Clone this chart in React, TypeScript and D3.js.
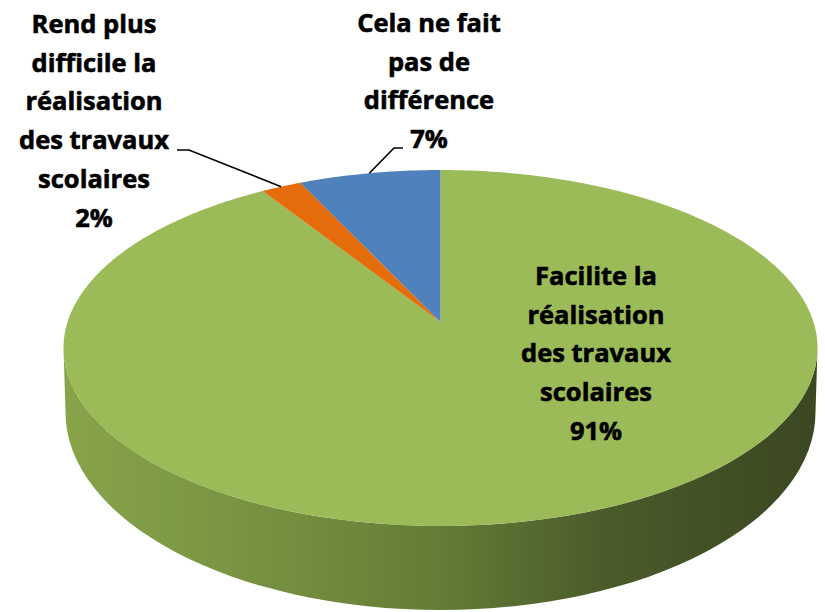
import React from "react";
import * as d3 from "d3";

// ---- data ----
const categories = [
  "Facilite la réalisation des travaux scolaires",
  "Rend plus difficile la réalisation des travaux scolaires",
  "Cela ne fait pas de différence",
];
const values = [91, 2, 7];
const labelLines = [
  ["Facilite la", "réalisation", "des travaux", "scolaires"],
  ["Rend plus", "difficile la", "réalisation", "des travaux", "scolaires"],
  ["Cela ne fait", "pas de", "différence"],
];
const sliceColors = ["#9BBB59", "#E46C0A", "#4F81BD"];

// ---- layout ----
const W = 825;
const H = 612;
const CX = 440.5;
const CY = 348;
const RX = 377;
const RY = 178;
const BETA = 0.146; // perspective offset of the pie centre
const BOT_CY = 412;
const BOT_RX = 375;
const BOT_RY = 198;
const FONT_SIZE = 25.5;
const LINE_H = 38.7;
const labelPos = [
  { x: 596, y: 285, leader: null as null | number[][] },
  { x: 94, y: 33, leader: [[177, 150], [189, 150]] },
  { x: 429, y: 32, leader: [[403, 148], [394, 148]] },
];

const GAMMA = 1 / Math.sqrt(1 - BETA * BETA);
function project(theta: number, r = 1): [number, number] {
  const x = r * Math.sin(theta);
  const y = -r * Math.cos(theta);
  const d = 1 - BETA * y;
  const xp = x / (GAMMA * d);
  const yp = (y - BETA) / d;
  return [CX + RX * xp, CY + RY * yp];
}

export default function App() {
  const total = d3.sum(values);
  const pie = d3
    .pie<number>()
    .sort(null)
    .value((d) => d)
    .startAngle(0)
    .endAngle(2 * Math.PI);
  const arcs = pie(values);
  const center = project(0, 0);
  const line = d3.line();

  const slicePath = (a0: number, a1: number) => {
    const n = Math.max(2, Math.ceil(((a1 - a0) / (2 * Math.PI)) * 400));
    const pts: [number, number][] = [center];
    for (let i = 0; i <= n; i++) pts.push(project(a0 + ((a1 - a0) * i) / n));
    return line(pts) + "Z";
  };

  const sidePath =
    `M${CX - RX},${CY} A${RX},${RY} 0 0 0 ${CX + RX},${CY} ` +
    `L${CX + BOT_RX},${BOT_CY} A${BOT_RX},${BOT_RY} 0 0 1 ${CX - BOT_RX},${BOT_CY} Z`;

  return (
    <svg
      width={W}
      height={H}
      style={{ position: "absolute", left: 0, top: 0, background: "#fff" }}
      fontFamily="'Open Sans', 'Noto Sans', sans-serif"
    >
      <defs>
        <linearGradient id="sideGrad" gradientUnits="userSpaceOnUse" x1={CX - RX} y1={0} x2={CX + RX} y2={0}>
          <stop offset="0%" stopColor="#87a44a" />
          <stop offset="25%" stopColor="#779341" />
          <stop offset="50%" stopColor="#637c36" />
          <stop offset="72%" stopColor="#4a5b2a" />
          <stop offset="100%" stopColor="#3b4721" />
        </linearGradient>
      </defs>
      <path d={sidePath} fill="url(#sideGrad)" />
      {arcs.map((a, i) => (
        <path key={categories[i]} d={slicePath(a.startAngle, a.endAngle)} fill={sliceColors[i]} />
      ))}
      {arcs.map((a, i) => {
        const lp = labelPos[i];
        const pct = Math.round((values[i] / total) * 100) + "%";
        const lines = [...labelLines[i], pct];
        let leader = null;
        if (lp.leader) {
          const anchor = project((a.startAngle + a.endAngle) / 2);
          leader = (
            <path
              d={line([...(lp.leader as [number, number][]), anchor]) || ""}
              fill="none"
              stroke="#000"
              strokeWidth={1.6}
            />
          );
        }
        return (
          <g key={"lbl" + i}>
            {leader}
            <text
              textAnchor="middle"
              fontSize={FONT_SIZE}
              fontWeight="bold"
              fill="#000"
              stroke="#000"
              strokeWidth={0.6}
            >
              {lines.map((t, j) => (
                <tspan key={j} x={lp.x} y={lp.y + j * LINE_H}>
                  {t}
                </tspan>
              ))}
            </text>
          </g>
        );
      })}
    </svg>
  );
}
